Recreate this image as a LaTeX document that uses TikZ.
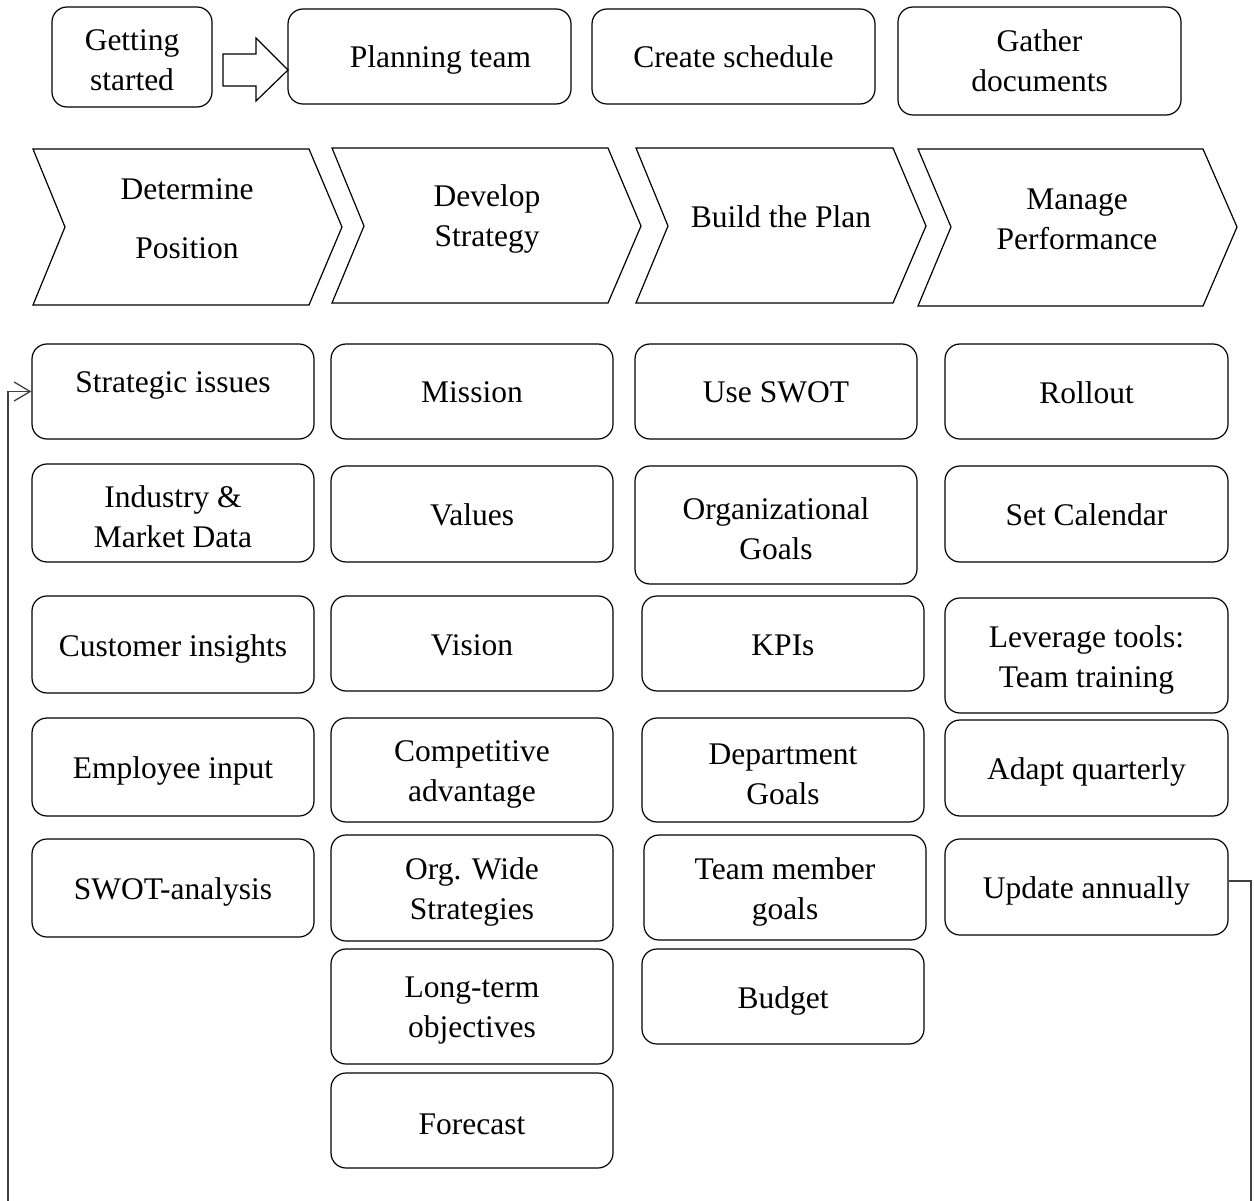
\documentclass[tikz,border=0pt]{standalone}
\usepackage{fontspec}
\setmainfont{Liberation Serif}
\usetikzlibrary{arrows.meta}

% rounded box given by its corners, text placed as a centred label:
% [text offset x, text offset y (down)], name, x1, y1, x2, y2, text
\newcommand\rbox[7][0,4]{%
  \node[rbox, minimum width={#5-#3}, minimum height={#6-#4},
    label={[shift={(#1)}]center:#7}]
    (#2) at ({(#3+#5)/2},{(#4+#6)/2}) {};}

\begin{document}
\begin{tikzpicture}[x=1pt, y=-1pt,
  every node/.style={font=\fontsize{31.5}{40}\selectfont, inner sep=0pt, align=center},
  every label/.style={font=\fontsize{31.5}{40}\selectfont, inner sep=0pt, align=center},
  rbox/.style={draw, line width=1.2pt, rounded corners=15pt},
  chev/.style={draw, line width=1.2pt, line join=miter},
  loopline/.style={draw=black!75, line width=1.3pt,
    -{Straight Barb[length=16pt, width=19pt]}}]

\useasboundingbox (0,0) rectangle (1254,1201);

% top row
\rbox[0,3]{gs}{52}{7}{212}{107}{Getting\\started}
\draw[line width=1.2pt] (223,54) -- (256,54) -- (256,38) -- (288,70)
  -- (256,101) -- (256,86) -- (223,86) -- cycle;
\rbox[11,3]{pt}{288}{9}{571}{104}{Planning team}
\rbox[0,0]{cs}{592}{9}{875}{104}{Create schedule}
\rbox[0,0]{gd}{898}{7}{1181}{115}{Gather\\documents}

% phase chevrons
\draw[chev] (33,149) -- (309,149) -- (342,227) -- (309,305) -- (33,305) -- (65,227) -- cycle;
\draw[chev] (332,148) -- (608,148) -- (641,226) -- (608,303) -- (332,303) -- (364,226) -- cycle;
\draw[chev] (636,148) -- (893,148) -- (926,226) -- (893,303) -- (636,303) -- (668,226) -- cycle;
\draw[chev] (918,149) -- (1203,149) -- (1237,227) -- (1203,306) -- (918,306) -- (951,227) -- cycle;
\node (p1) at (187,219) {Determine\\[19pt]Position};
\node (p2) at (487,219) {Develop\\Strategy};
\node (p3) at (781,217) {Build the Plan};
\node (p4) at (1077,219) {Manage\\Performance};

% Determine Position
\rbox[0,-6]{si}{32}{344}{314}{439}{Strategic issues}
\rbox{im}{32}{464}{314}{562}{Industry \&\\Market Data}
\rbox{ci}{32}{596}{314}{693}{Customer insights}
\rbox{ei}{32}{718}{314}{816}{Employee input}
\rbox{sw}{32}{839}{314}{937}{SWOT-analysis}

% Develop Strategy
\rbox[0,1]{mi}{331}{344}{613}{439}{Mission}
\rbox[0,1]{va}{331}{466}{613}{562}{Values}
\rbox[0,2]{vi}{331}{596}{613}{691}{Vision}
\rbox{ca}{331}{718}{613}{822}{Competitive\\advantage}
\rbox{ow}{331}{835}{613}{941}{Org. Wide\\Strategies}
\rbox{lt}{331}{949}{613}{1064}{Long-term\\objectives}
\rbox{fc}{331}{1073}{613}{1168}{Forecast}

% Build the Plan
\rbox[0,1]{us}{635}{344}{917}{439}{Use SWOT}
\rbox{og}{635}{466}{917}{584}{Organizational\\Goals}
\rbox[0,2]{kp}{642}{596}{924}{691}{KPIs}
\rbox{dg}{642}{718}{924}{822}{Department\\Goals}
\rbox{tm}{644}{835}{926}{940}{Team member\\goals}
\rbox{bu}{642}{949}{924}{1044}{Budget}

% Manage Performance
\rbox[0,1]{ro}{945}{344}{1228}{439}{Rollout}
\rbox[0,1]{sc}{945}{466}{1228}{562}{Set Calendar}
\rbox{lv}{945}{598}{1228}{713}{Leverage tools:\\Team training}
\rbox{aq}{945}{720}{1228}{816}{Adapt quarterly}
\rbox{ua}{945}{839}{1228}{935}{Update annually}

% yearly loop back to the start
\coordinate (lr) at (1251,1215);
\coordinate (ll) at (8,1215);
\draw[loopline] ([yshift=6pt]ua.east) -| (lr) -- (ll) |- (si.west);
\end{tikzpicture}
\end{document}
